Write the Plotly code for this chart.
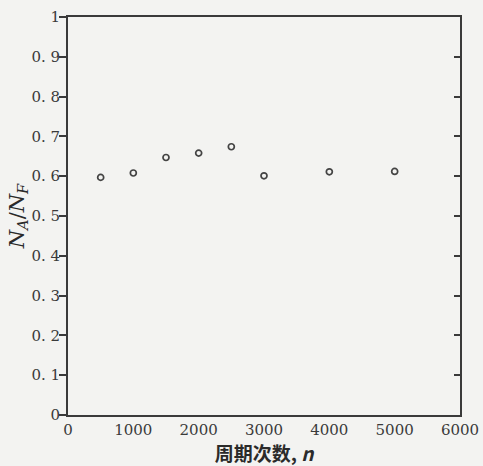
import plotly.graph_objects as go

cycles = [500, 1000, 1500, 2000, 2500, 3000, 4000, 5000]
ratio = [0.597, 0.608, 0.647, 0.658, 0.674, 0.601, 0.611, 0.612]

x_ticks = [0, 1000, 2000, 3000, 4000, 5000, 6000]
x_tick_text = ["0", "1000", "2000", "3000", "4000", "5000", "6000"]
y_ticks = [0, 0.1, 0.2, 0.3, 0.4, 0.5, 0.6, 0.7, 0.8, 0.9, 1.0]
y_tick_text = ["0", "0. 1", "0. 2", "0. 3", "0. 4", "0. 5", "0. 6", "0. 7", "0. 8", "0. 9", "1"]

ink = "#3a3a3a"
paper = "#f3f3f1"

fig = go.Figure()
fig.add_trace(go.Scatter(
    x=cycles, y=ratio, mode="markers",
    marker=dict(symbol="circle-open", size=6, color="#444444", line=dict(width=1.7)),
    showlegend=False, hoverinfo="x+y",
))
# helper trace so the right-hand inside tick axis is drawn
fig.add_trace(go.Scatter(
    x=cycles, y=ratio, mode="markers", yaxis="y2",
    marker=dict(opacity=0), showlegend=False, hoverinfo="skip",
))

tick_font = dict(family="DejaVu Serif", size=15, color=ink)

fig.update_layout(
    width=483, height=466,
    margin=dict(l=68, r=23, t=17, b=51),
    paper_bgcolor=paper, plot_bgcolor=paper,
    xaxis=dict(
        range=[0, 6000], tickvals=x_ticks, ticktext=x_tick_text,
        showgrid=False, zeroline=False, ticks="", automargin=False,
        showline=True, mirror=True, linecolor=ink, linewidth=2,
        tickfont=tick_font,
        title=dict(text="周期次数, <i>n</i>", standoff=0,
                   font=dict(family="Noto Sans CJK SC", size=19, color="#2a2a2a", weight=700)),
    ),
    yaxis=dict(
        range=[0, 1.0], tickvals=y_ticks, ticktext=y_tick_text,
        showgrid=False, zeroline=False, ticks="outside", ticklen=7,
        tickcolor=ink, tickwidth=1.5, automargin=False, ticklabelstandoff=-4,
        showline=True, mirror=True, linecolor=ink, linewidth=2,
        tickfont=tick_font,
        title=dict(text="<i>N<sub>A</sub></i>/<i>N<sub>F</sub></i>", standoff=0,
                   font=dict(family="DejaVu Serif", size=21, color="#2a2a2a")),
    ),
    yaxis2=dict(
        overlaying="y", side="right", range=[0, 1.0], tickvals=y_ticks[1:-1],
        showticklabels=False, showgrid=False, zeroline=False, automargin=False,
        ticks="inside", ticklen=6, tickcolor=ink, tickwidth=1.5, showline=False,
    ),
)

fig.write_html("out.html", config={"displayModeBar": False},
               post_script="document.body.style.margin='0';document.body.style.background='%s';" % paper)
